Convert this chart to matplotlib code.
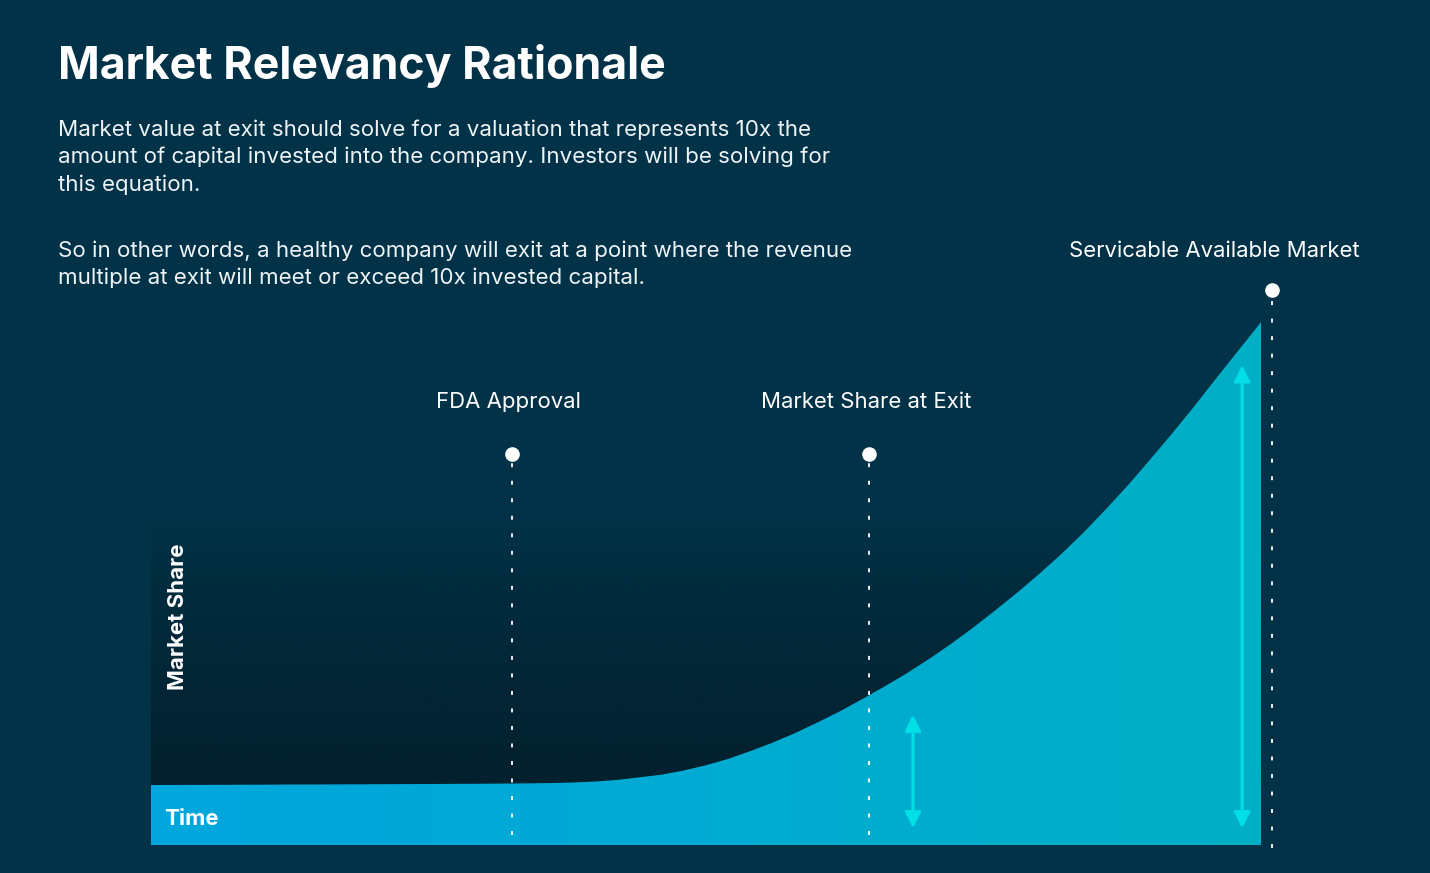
import numpy as np
import matplotlib.pyplot as plt
from matplotlib.patches import Polygon
from matplotlib.colors import to_rgb

plt.rcParams['font.family'] = ['Inter', 'DejaVu Sans']

# market share curve (time 0..100, share 0..100 = serviceable available market)
time = [0, 10, 20, 30, 34, 36, 38, 40, 42, 44, 46, 48, 50, 52, 54, 56, 58, 60,
        62, 64, 66, 68, 70, 72, 74, 76, 78, 80, 82, 84, 86, 88, 90, 92, 94, 96,
        98, 100]
share = [11.43, 11.5, 11.58, 11.68, 11.75, 11.8, 11.9, 12.1, 12.4, 12.9, 13.4,
         14.2, 15.2, 16.4, 17.9, 19.5, 21.3, 23.3, 25.4, 27.7, 30.1, 32.6, 35.3,
         38.2, 41.3, 44.6, 48.0, 51.6, 55.4, 59.5, 63.9, 68.5, 73.4, 78.4, 83.6,
         89.0, 94.3, 99.6]
band_top = 11.43

# milestones
milestone_names = ['FDA Approval', 'Market Share at Exit', 'Servicable Available Market']
milestone_t = [32.5, 64.7, 101.0]
milestone_dot = [74.5, 74.5, 105.7]
milestone_bottom = [1.9, 1.9, -0.6]

# arrows (time, low, high)
arrow_t = [68.65, 98.3]
arrow_low = [3.2, 3.2]
arrow_high = [24.8, 91.4]

bg = '#013247'
dark = '#03202e'
fill_left = '#00a7de'
fill_right = '#00afc6'
cyan = '#00dfe6'

fig = plt.figure(figsize=(14.3, 8.73), dpi=100)
fig.patch.set_facecolor(bg)

ax = fig.add_axes([0.0978, 0.0200, 0.8073, 0.6735])
ax.set_xlim(-1, 103)
ax.set_ylim(-2, 110)
ax.axis('off')

# dark gradient panel behind the curve
rgba = np.zeros((100, 2, 4))
rgba[:, :, :3] = to_rgb(dark)
rgba[:, :, 3] = np.linspace(1, 0, 100)[:, None] ** 0.8
ax.imshow(rgba, extent=(0, 100, band_top, 62), aspect='auto', origin='lower',
          zorder=1, interpolation='bilinear')

# curve fill with horizontal gradient
c1, c2 = np.array(to_rgb(fill_left)), np.array(to_rgb(fill_right))
g = np.linspace(0, 1, 200)[None, :, None]
grad = c1 + (c2 - c1) * g
im = ax.imshow(np.repeat(grad, 2, axis=0), extent=(0, 100, 0, 100), aspect='auto',
               origin='lower', zorder=2, interpolation='bilinear')
verts = list(zip(time, share)) + [(100, 0), (0, 0)]
poly = Polygon(verts, closed=True, facecolor='none', edgecolor='none')
ax.add_patch(poly)
im.set_clip_path(poly)

# milestone lines and dots
for t, top, bot in zip(milestone_t, milestone_dot, milestone_bottom):
    ax.plot([t, t], [bot, top], color='white', lw=1.3, linestyle=(0, (2.2, 7.5)), zorder=4)
    ax.plot(t, top, 'o', color='white', markersize=9.5, zorder=5)

# arrows
for t, lo, hi in zip(arrow_t, arrow_low, arrow_high):
    ax.annotate('', xy=(t, hi), xytext=(t, lo),
                arrowprops=dict(arrowstyle='<|-|>', color=cyan, lw=2.2,
                                mutation_scale=24, shrinkA=0, shrinkB=0), zorder=6)

# milestone labels
ax.text(milestone_t[0] - 0.3, 84.3, milestone_names[0], color='white', fontsize=15.9,
        ha='center', va='center')
ax.text(milestone_t[1] - 0.3, 84.3, milestone_names[1], color='white', fontsize=15.9,
        ha='center', va='center')
fig.text(1214 / 1430, 1 - 251 / 873, milestone_names[2], color='white', fontsize=15.9,
         ha='center', va='center')

ax.text(1.2, 5.0, 'Time', color='white', fontsize=16, fontweight='bold',
        ha='left', va='center', zorder=7)
fig.text(178 / 1430, 1 - 617 / 873, 'Market Share', color='white', fontsize=16.1,
         fontweight='bold', rotation=90, ha='center', va='center')

# heading and body text
fig.text(58 / 1430, 1 - 66 / 873, 'Market Relevancy Rationale', color='white',
         fontsize=32.2, fontweight='bold', ha='left', va='center')
fig.text(58 / 1430, 1 - 157 / 873,
         'Market value at exit should solve for a valuation that represents 10x the\n'
         'amount of capital invested into the company. Investors will be solving for\n'
         'this equation.', color='#eef3f6', fontsize=16.1, ha='left', va='center',
         linespacing=1.42)
fig.text(58 / 1430, 1 - 264 / 873,
         'So in other words, a healthy company will exit at a point where the revenue\n'
         'multiple at exit will meet or exceed 10x invested capital.', color='#eef3f6',
         fontsize=16.1, ha='left', va='center', linespacing=1.42)

fig.savefig('out.png', dpi=100, facecolor=bg)
